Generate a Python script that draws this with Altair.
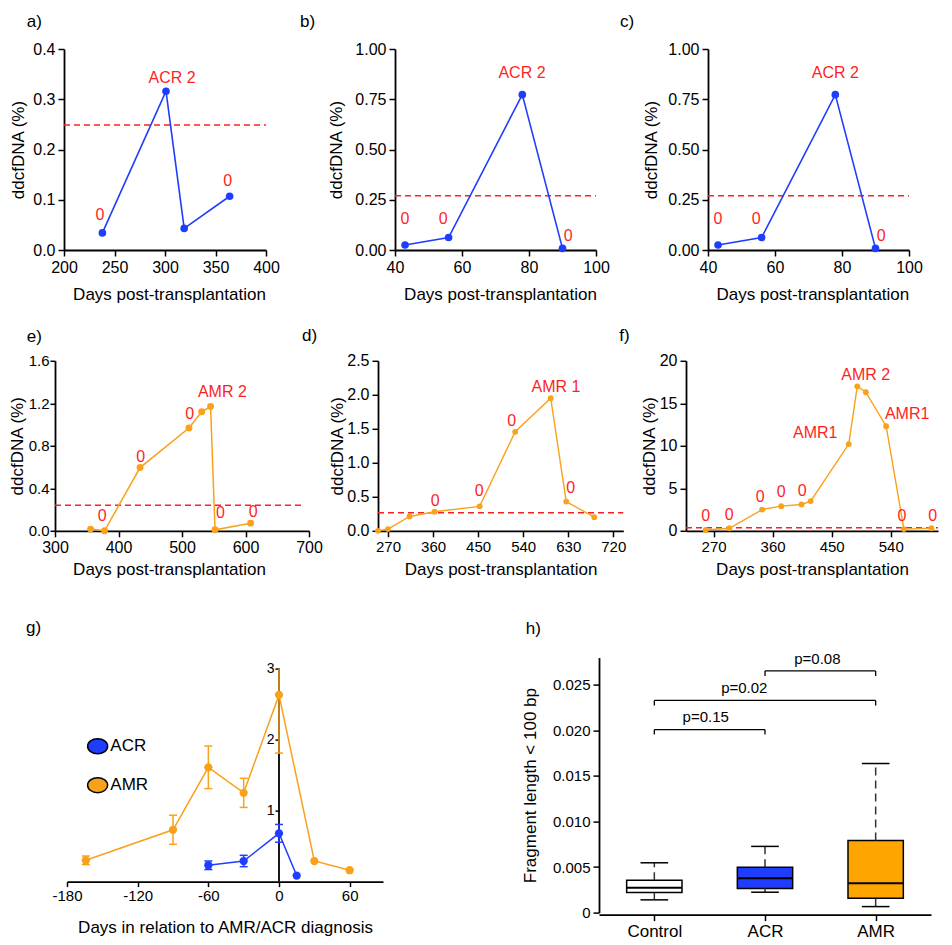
import json
import altair as alt
import pandas as pd

FONT = "Liberation Sans"
BLUE = "#1f3dff"
ORANGE = "#f9a11b"
RED = "#ff1f1f"
BOX_ORANGE = "#ffa500"

# ---------------- panel a ----------------
a_days = [238, 301, 319, 364]
a_vals = [0.034, 0.316, 0.043, 0.107]
a_lab_text = ["0", "ACR 2", "0"]
a_lab_x = [235.6, 307.0, 362.0]
a_lab_y = [0.070, 0.343, 0.138]
a_thr = 0.249
a_xticks = [200, 250, 300, 350, 400]
a_yticks = [0.0, 0.1, 0.2, 0.3, 0.4]

# ---------------- panel b ----------------
b_days = [43, 56, 78, 90]
b_vals = [0.025, 0.062, 0.773, 0.008]
b_lab_text = ["0", "0", "ACR 2", "0"]
b_lab_x = [43.0, 54.4, 77.9, 91.7]
b_lab_y = [0.156, 0.156, 0.882, 0.071]
b_thr = 0.27
b_xticks = [40, 60, 80, 100]
b_yticks = [0.0, 0.25, 0.5, 0.75, 1.0]

# ---------------- panel c ----------------
c_days = [43, 56, 78, 90]
c_vals = [0.025, 0.062, 0.773, 0.008]
c_lab_text = ["0", "0", "ACR 2", "0"]
c_lab_x = [43.0, 54.4, 78.0, 91.7]
c_lab_y = [0.156, 0.156, 0.882, 0.071]
c_thr = 0.27

# ---------------- panel e ----------------
e_days = [356, 378, 434, 511, 531, 545, 552, 608]
e_vals = [0.016, 0.0, 0.595, 0.967, 1.12, 1.17, 0.01, 0.072]
e_lab_text = ["0", "0", "0", "AMR 2", "0", "0"]
e_lab_x = [374.4, 435.0, 512.0, 563.6, 560.6, 612.0]
e_lab_y = [0.138, 0.698, 1.097, 1.307, 0.163, 0.175]
e_thr = 0.24
e_thr_end = 688
e_xticks = [300, 400, 500, 600, 700]
e_yticks = [0.0, 0.4, 0.8, 1.2, 1.6]

# ---------------- panel d ----------------
d_days = [250, 270, 313, 363, 453, 524, 595, 626, 682]
d_vals = [0.0, 0.025, 0.21, 0.28, 0.36, 1.456, 1.95, 0.43, 0.2]
d_lab_text = ["0", "0", "0", "AMR 1", "0"]
d_lab_x = [364.4, 452.0, 517.0, 605.7, 635.0]
d_lab_y = [0.437, 0.584, 1.617, 2.11, 0.634]
d_thr = 0.265
d_xticks = [270, 360, 450, 540, 630, 720]
d_yticks = [0.0, 0.5, 1.0, 1.5, 2.0, 2.5]

# ---------------- panel f ----------------
f_days = [258, 294, 344, 373, 404, 418, 476, 489, 502, 533, 560, 602]
f_vals = [0.1, 0.3, 2.5, 2.9, 3.1, 3.5, 10.2, 17.0, 16.3, 12.3, 0.2, 0.3]
f_lab_text = ["0", "0", "0", "0", "0", "AMR1", "AMR 2", "AMR1", "0", "0"]
f_lab_x = [258, 294, 341, 373, 405, 425, 502, 565, 557, 604]
f_lab_y = [1.7, 1.9, 4.0, 4.6, 4.7, 11.46, 18.35, 13.7, 1.7, 1.8]
f_thr = 0.35
f_xticks = [270, 360, 450, 540]
f_yticks = [0, 5, 10, 15, 20]

# ---------------- panel g ----------------
g_series = ["ACR", "AMR"]
g_acr_days = [-60, -30, 0, 15]
g_acr_mean = [0.23, 0.29, 0.68, 0.085]
g_acr_err = [0.06, 0.08, 0.125, 0.0]
g_amr_days = [-164, -90, -60, -30, 0, 30, 60]
g_amr_mean = [0.30, 0.73, 1.61, 1.25, 2.63, 0.29, 0.16]
g_amr_err = [0.06, 0.205, 0.30, 0.205, 0.82, 0.0, 0.0]
g_legend_x = [-154, -154]
g_legend_y = [1.906, 1.358]
g_legend_text_x = -143.2
g_xticks = [-180, -120, -60, 0, 60]
g_yticks = [1, 2, 3]
g_ytop = 3

# ---------------- panel h ----------------
h_groups = ["Control", "ACR", "AMR"]
h_wlo = [0.00140, 0.00224, 0.00066]
h_q1 = [0.00220, 0.00264, 0.00158]
h_med = [0.00272, 0.00378, 0.00323]
h_q3 = [0.00356, 0.00499, 0.00793]
h_whi = [0.00547, 0.00727, 0.01637]
h_pair_from = [0, 0, 1]
h_pair_to = [1, 2, 2]
h_pair_y = [0.0201, 0.0233, 0.02654]
h_p_text = ["p=0.15", "p=0.02", "p=0.08"]
h_p_x = [0.464, 0.813, 1.473]
h_p_y = [0.02148, 0.02467, 0.02786]
h_yticks = [0, 0.005, 0.010, 0.015, 0.020, 0.025]


def panel_title(text, dx, offset):
    return alt.TitleParams(text=text, anchor="start", frame="group", dx=dx, offset=offset,
                           baseline="alphabetic", font=FONT, fontSize=17,
                           fontWeight="normal", color="black")


def spacer(w):
    return alt.Chart(pd.DataFrame({"v": [0]})).mark_rule(opacity=0).encode(
        x=alt.value(0), y=alt.value(0), y2=alt.value(1)).properties(width=w, height=1)


def line_panel(days, vals, lab_x, lab_y, lab_text, thr, color, pt_size, line_w,
               xdom, xticks, ydom, yticks, yfmt, width, height, label, label_dx,
               label_offset, ytitle_x, xtitle_y, xtitle_x=None, plot_w=None,
               thr_end=None, xlabel_size=16, ylabel_size=16, ytick=6, ypad=3):
    xs_kw = dict(domain=xdom, nice=False, zero=False)
    if plot_w is not None:
        xs_kw["range"] = [0, plot_w]
    xs = alt.Scale(**xs_kw)
    ys = alt.Scale(domain=ydom, nice=False, zero=False)
    xax_kw = dict(values=xticks, tickCount=len(xticks), format="d",
                  title="Days post-transplantation",
                  titleBaseline="middle", titleY=xtitle_y, labelFontSize=xlabel_size,
                  labelOverlap=False, labelFlush=False)
    if xtitle_x is not None:
        xax_kw["titleX"] = xtitle_x
    xax = alt.Axis(**xax_kw)
    yax = alt.Axis(values=yticks, tickCount=len(yticks), format=yfmt, title="ddcfDNA (%)",
                   titleBaseline="middle", titleX=ytitle_x, labelFontSize=ylabel_size,
                   labelOverlap=False, labelFlush=False, tickSize=ytick, labelPadding=ypad)

    pts = pd.DataFrame({"x": days, "y": vals})
    labs = pd.DataFrame({"x": lab_x, "y": lab_y, "t": lab_text})
    thr_df = pd.DataFrame({"x": [xdom[0]], "x2": [thr_end if thr_end is not None else xdom[1]],
                           "y": [thr]})

    rule = alt.Chart(thr_df).mark_rule(color=RED, strokeWidth=1.5, strokeDash=[6, 4]).encode(
        x=alt.X("x:Q", scale=xs), x2="x2:Q", y=alt.Y("y:Q", scale=ys))
    line = alt.Chart(pts).mark_line(color=color, strokeWidth=line_w).encode(
        x=alt.X("x:Q", scale=xs, axis=xax), y=alt.Y("y:Q", scale=ys, axis=yax))
    dots = alt.Chart(pts).mark_circle(color=color, size=pt_size, opacity=1).encode(
        x=alt.X("x:Q", scale=xs), y=alt.Y("y:Q", scale=ys))
    text = alt.Chart(labs).mark_text(color=RED, font=FONT, fontSize=16, baseline="middle",
                                     align="center").encode(
        x=alt.X("x:Q", scale=xs), y=alt.Y("y:Q", scale=ys), text="t:N")
    return alt.layer(rule, line, dots, text).properties(
        width=width, height=height, title=panel_title(label, label_dx, label_offset))


T1 = -3.4
T2 = -5.3
pa = line_panel(a_days, a_vals, a_lab_x, a_lab_y, a_lab_text, a_thr, BLUE, 58, 1.6,
                [200, 400], a_xticks, [0, 0.4], a_yticks, ".1f", 331, 201, "a)", -37.3, T1,
                ytitle_x=-45.5, xtitle_y=44, xtitle_x=105, plot_w=202)
pb = line_panel(b_days, b_vals, b_lab_x, b_lab_y, b_lab_text, b_thr, BLUE, 58, 1.6,
                [40, 100], b_xticks, [0, 1.0], b_yticks, ".2f", 312.3, 201, "b)", -95, T1,
                ytitle_x=-58.3, xtitle_y=44, xtitle_x=105, plot_w=201)
pc = line_panel(c_days, c_vals, c_lab_x, c_lab_y, c_lab_text, c_thr, BLUE, 58, 1.6,
                [40, 100], b_xticks, [0, 1.0], b_yticks, ".2f", 201, 201, "c)", -88, T1,
                ytitle_x=-56.5, xtitle_y=44, xtitle_x=104.4)

pe = line_panel(e_days, e_vals, e_lab_x, e_lab_y, e_lab_text, e_thr, ORANGE, 48, 1.5,
                [300, 700], e_xticks, [0, 1.6], e_yticks, ".1f", 322.7, 170, "e)", -28.3, T2,
                ytitle_x=-37.5, xtitle_y=38.7, xtitle_x=114, plot_w=254, thr_end=e_thr_end,
                ylabel_size=15, ytick=5, ypad=1)
pd_ = line_panel(d_days, d_vals, d_lab_x, d_lab_y, d_lab_text, d_thr, ORANGE, 34, 1.4,
                 [250, 740], d_xticks, [0, 2.5], d_yticks, ".1f", 308, 170, "d)", -76, T2,
                 ytitle_x=-40.2, xtitle_y=38.7, xtitle_x=122.6, plot_w=245.3, xlabel_size=15)
pf = line_panel(f_days, f_vals, f_lab_x, f_lab_y, f_lab_text, f_thr, ORANGE, 34, 1.4,
                [228, 612], f_xticks, [0, 20], f_yticks, "d", 252, 170, "f)", -66.7, T2,
                ytitle_x=-36.7, xtitle_y=38.7, xlabel_size=15)

# ---------------- build g ----------------
g_rows = []
for s, days, mean, err in [("ACR", g_acr_days, g_acr_mean, g_acr_err),
                           ("AMR", g_amr_days, g_amr_mean, g_amr_err)]:
    for d, m, e in zip(days, mean, err):
        g_rows.append({"series": s, "x": d, "y": m, "err": e, "lo": m - e, "hi": m + e})
gdf = pd.DataFrame(g_rows)
gleg = pd.DataFrame({"series": g_series, "x": g_legend_x, "y": g_legend_y,
                     "tx": [g_legend_text_x] * len(g_series)})
gaxis_df = pd.DataFrame({"x": [0], "y": [0], "y2": [g_ytop]})

gxs = alt.Scale(domain=[-180, 88.3], nice=False, zero=False, range=[0, 316])
gys = alt.Scale(domain=[0, 3.155], nice=False, zero=False)
gcol = alt.Color("series:N", scale=alt.Scale(domain=g_series, range=[BLUE, ORANGE]), legend=None)

g_xaxis = alt.Axis(values=g_xticks, tickCount=len(g_xticks), labelExpr="'' + datum.value",
                   title="Days in relation to AMR/ACR diagnosis", titleBaseline="middle",
                   titleY=45.7, titleX=158, labelFontSize=15, tickSize=5, labelPadding=1.5,
                   labelOverlap=False, labelFlush=False)
g_yaxis = alt.Axis(values=g_yticks, tickCount=len(g_yticks), offset=-212, domain=False,
                   tickSize=4, labelPadding=1, labelFontSize=14, format="d", title=None,
                   labelOverlap=False, labelFlush=False)

g_vline = alt.Chart(gaxis_df).mark_rule(color="black", strokeWidth=1.8).encode(
    x=alt.X("x:Q", scale=gxs, axis=g_xaxis), y=alt.Y("y:Q", scale=gys, axis=g_yaxis), y2="y2:Q")
g_err = alt.Chart(gdf).transform_filter("datum.err > 0").transform_calculate(
    hic="min(datum.hi, %s)" % g_ytop).mark_rule(strokeWidth=1.5).encode(
    x=alt.X("x:Q", scale=gxs), y=alt.Y("lo:Q", scale=gys), y2="hic:Q", color=gcol)
g_cap_lo = alt.Chart(gdf).transform_filter("datum.err > 0").mark_tick(
    orient="horizontal", size=8, thickness=1.5, opacity=1).encode(
    x=alt.X("x:Q", scale=gxs), y=alt.Y("lo:Q", scale=gys), color=gcol)
g_cap_hi = alt.Chart(gdf).transform_filter(
    "datum.err > 0 && datum.hi <= %s" % g_ytop).mark_tick(
    orient="horizontal", size=8, thickness=1.5, opacity=1).encode(
    x=alt.X("x:Q", scale=gxs), y=alt.Y("hi:Q", scale=gys), color=gcol)
g_line = alt.Chart(gdf).mark_line(strokeWidth=1.5).encode(
    x=alt.X("x:Q", scale=gxs), y=alt.Y("y:Q", scale=gys), color=gcol, detail="series:N")
g_dots = alt.Chart(gdf).mark_circle(size=68, opacity=1).encode(
    x=alt.X("x:Q", scale=gxs), y=alt.Y("y:Q", scale=gys), color=gcol)
g_leg_sym = alt.Chart(gleg).mark_point(
    shape="M-1,0A1,0.75,0,1,1,1,0A1,0.75,0,1,1,-1,0Z", filled=True, size=400,
    stroke="black", strokeWidth=1.5, opacity=1).encode(
    x=alt.X("x:Q", scale=gxs), y=alt.Y("y:Q", scale=gys),
    fill=alt.Fill("series:N", scale=alt.Scale(domain=g_series, range=[BLUE, ORANGE]), legend=None))
g_leg_txt = alt.Chart(gleg).mark_text(align="left", baseline="middle", font=FONT, fontSize=17,
                                      color="black").encode(
    x=alt.X("tx:Q", scale=gxs), y=alt.Y("y:Q", scale=gys), text="series:N")

pg = alt.layer(g_vline, g_err, g_cap_lo, g_cap_hi, g_line, g_dots, g_leg_sym, g_leg_txt).properties(
    width=531.3, height=224, title=panel_title("g)", -41, 7.3))

# ---------------- build h ----------------
hdf = pd.DataFrame({"group": h_groups, "pos": list(range(len(h_groups))), "wlo": h_wlo,
                    "q1": h_q1, "med": h_med, "q3": h_q3, "whi": h_whi})
hbr = pd.DataFrame({"x1": h_pair_from, "x2": h_pair_to, "y": h_pair_y})
hpt = pd.DataFrame({"x": h_p_x, "y": h_p_y, "t": h_p_text})

hxs = alt.Scale(domain=[-0.5, len(h_groups) - 0.5], nice=False, zero=False)
hys = alt.Scale(domain=[0, 0.028], nice=False, zero=False)
h_xaxis = alt.Axis(values=list(range(len(h_groups))), tickCount=len(h_groups),
                   labelExpr=json.dumps(h_groups) + "[datum.value]", title=None,
                   tickSize=6, labelFontSize=17, labelPadding=3, offset=2,
                   labelOverlap=False, labelFlush=False)
h_yaxis = alt.Axis(values=h_yticks, tickCount=len(h_yticks),
                   labelExpr="datum.value == 0 ? '0' : format(datum.value, '.3f')",
                   title="Fragment length < 100 bp", titleBaseline="middle", titleX=-68.3,
                   labelFontSize=15, tickSize=6, labelPadding=3, labelOverlap=False,
                   labelFlush=False)
hfill = alt.Fill("group:N", scale=alt.Scale(domain=h_groups, range=["white", BLUE, BOX_ORANGE]),
                 legend=None)

hbase = alt.Chart(hdf).transform_calculate(
    bl="datum.pos - 0.25", br="datum.pos + 0.25",
    cl="datum.pos - 0.125", cr="datum.pos + 0.125")

h_box = hbase.mark_bar(stroke="black", strokeWidth=1.5).encode(
    x=alt.X("bl:Q", scale=hxs, axis=h_xaxis), x2="br:Q",
    y=alt.Y("q1:Q", scale=hys, axis=h_yaxis), y2="q3:Q", fill=hfill)
h_wh_up = hbase.mark_rule(color="#333333", strokeWidth=1.5, strokeDash=[8, 5]).encode(
    x=alt.X("pos:Q", scale=hxs), y=alt.Y("q3:Q", scale=hys), y2="whi:Q")
h_wh_lo = hbase.mark_rule(color="#333333", strokeWidth=1.5, strokeDash=[8, 5]).encode(
    x=alt.X("pos:Q", scale=hxs), y=alt.Y("wlo:Q", scale=hys), y2="q1:Q")
h_cap_up = hbase.mark_rule(color="black", strokeWidth=1.5).encode(
    x=alt.X("cl:Q", scale=hxs), x2="cr:Q", y=alt.Y("whi:Q", scale=hys))
h_cap_lo = hbase.mark_rule(color="black", strokeWidth=1.5).encode(
    x=alt.X("cl:Q", scale=hxs), x2="cr:Q", y=alt.Y("wlo:Q", scale=hys))
h_med_r = hbase.mark_rule(color="black", strokeWidth=2).encode(
    x=alt.X("bl:Q", scale=hxs), x2="br:Q", y=alt.Y("med:Q", scale=hys))

hbr_base = alt.Chart(hbr).transform_calculate(ylo="datum.y - 0.00055")
h_br_h = hbr_base.mark_rule(color="black", strokeWidth=1.3).encode(
    x=alt.X("x1:Q", scale=hxs), x2="x2:Q", y=alt.Y("y:Q", scale=hys))
h_br_l = hbr_base.mark_rule(color="black", strokeWidth=1.3).encode(
    x=alt.X("x1:Q", scale=hxs), y=alt.Y("ylo:Q", scale=hys), y2="y:Q")
h_br_r = hbr_base.mark_rule(color="black", strokeWidth=1.3).encode(
    x=alt.X("x2:Q", scale=hxs), y=alt.Y("ylo:Q", scale=hys), y2="y:Q")
h_txt = alt.Chart(hpt).mark_text(font=FONT, fontSize=15, baseline="middle", align="center",
                                 color="black").encode(
    x=alt.X("x:Q", scale=hxs), y=alt.Y("y:Q", scale=hys), text="t:N")

ph = alt.layer(h_box, h_wh_up, h_wh_lo, h_cap_up, h_cap_lo, h_med_r, h_br_h, h_br_l, h_br_r,
               h_txt).properties(width=332, height=255, title=panel_title("h)", -73.3, 0.8))

# ---------------- layout ----------------
row1 = alt.hconcat(spacer(56), pa, pb, pc, spacing=0, bounds="flush")
row2 = alt.hconcat(spacer(47), pe, pd_, pf, spacing=0, bounds="flush")
row3 = alt.hconcat(spacer(59), pg, ph, spacing=0, bounds="flush").resolve_scale(
    color="independent", fill="independent")
top = alt.concat(row1, row2, columns=1, spacing=24.8)
chart = alt.concat(top, row3, columns=1, spacing=40.6).properties(
    padding={"left": 0, "top": 5, "right": 5, "bottom": 0})

chart = chart.configure_view(stroke=None).configure_axis(
    grid=False, domainColor="black", domainWidth=1.8, tickColor="black", tickWidth=1.5,
    tickSize=6, labelFont=FONT, labelFontSize=16, labelColor="black", titleFont=FONT,
    titleFontSize=17, titleFontWeight="normal", titleColor="black", labelFlush=False,
    labelOverlap=False
).configure_axisX(labelPadding=3).configure_axisY(labelPadding=3)

chart.save("out.html", embed_options={"renderer": "svg", "actions": False})
